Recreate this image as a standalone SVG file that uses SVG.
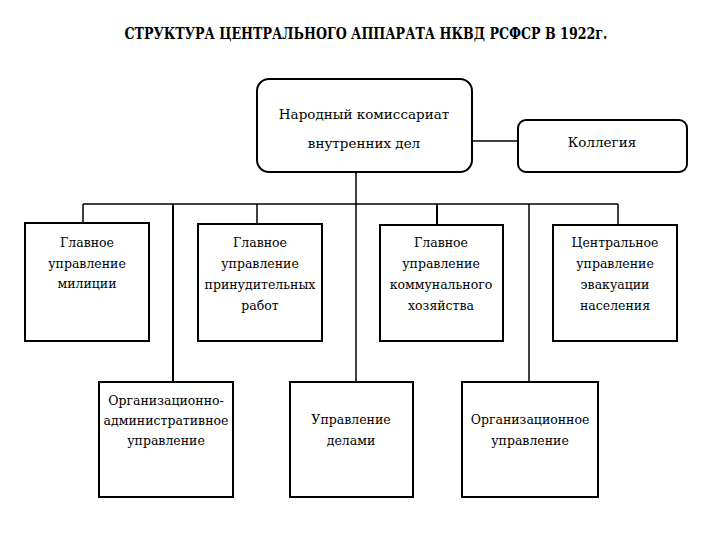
<svg xmlns="http://www.w3.org/2000/svg" width="720" height="540" viewBox="0 0 720 540">
<style>
.bx{fill:#fff;stroke:#000;stroke-width:2}
.ln{fill:none;stroke:#000;stroke-width:1.5}
text{font-family:'DejaVu Serif','Liberation Serif',serif;fill:#000}
.t{font-size:12.5px;text-anchor:middle}
.tl{font-size:13.5px;text-anchor:middle}
.title{font-family:'DejaVu Serif Condensed','DejaVu Serif',serif;font-stretch:condensed;font-size:16px;font-weight:bold;text-anchor:middle}
</style>
<rect width="720" height="540" fill="#fff"/>
<text class="title" x="366" y="39" textLength="483" lengthAdjust="spacingAndGlyphs">СТРУКТУРА ЦЕНТРАЛЬНОГО АППАРАТА НКВД РСФСР В 1922г.</text>
<g id="connectors">
<path class="ln" d="M472 141H518"/>
<path class="ln" d="M356 172V382"/>
<path class="ln" d="M83 204H618"/>
<path class="ln" d="M83 204V223"/>
<path class="ln" d="M257 204V224"/>
<path class="ln" d="M437 204V225" style="stroke-width:2"/>
<path class="ln" d="M618 204V225"/>
<path class="ln" d="M173 204V382" style="stroke-width:2"/>
<path class="ln" d="M529 204V382"/>
</g>
<g id="nkvd">
<rect class="bx" x="257" y="79" width="215" height="93" rx="12"/>
<text class="tl" x="364" y="119">Народный комиссариат</text>
<text class="tl" x="364" y="148">внутренних дел</text>
</g>
<g id="kollegia">
<rect class="bx" x="518" y="120" width="169" height="52" rx="8"/>
<text class="tl" x="602" y="147">Коллегия</text>
</g>
<g id="militsia">
<rect class="bx" x="25" y="223" width="124" height="118"/>
<text class="t" x="87" y="247">Главное</text>
<text class="t" x="87" y="268">управление</text>
<text class="t" x="87" y="288">милиции</text>
</g>
<g id="prinud">
<rect class="bx" x="198" y="224" width="124" height="117"/>
<text class="t" x="260" y="247">Главное</text>
<text class="t" x="260" y="268">управление</text>
<text class="t" x="260" y="289">принудительных</text>
<text class="t" x="260" y="310">работ</text>
</g>
<g id="kommun">
<rect class="bx" x="380" y="225" width="123" height="116"/>
<text class="t" x="441" y="247">Главное</text>
<text class="t" x="441" y="268">управление</text>
<text class="t" x="441" y="289">коммунального</text>
<text class="t" x="441" y="310">хозяйства</text>
</g>
<g id="evak">
<rect class="bx" x="553" y="225" width="124" height="116"/>
<text class="t" x="615" y="247">Центральное</text>
<text class="t" x="615" y="268">управление</text>
<text class="t" x="615" y="289">эвакуации</text>
<text class="t" x="615" y="310">населения</text>
</g>
<g id="orgadmin">
<rect class="bx" x="99" y="382" width="134" height="115"/>
<text class="t" x="166" y="405">Организационно-</text>
<text class="t" x="166" y="425">административное</text>
<text class="t" x="166" y="445">управление</text>
</g>
<g id="delami">
<rect class="bx" x="290" y="382" width="123" height="115"/>
<text class="t" x="351" y="424">Управление</text>
<text class="t" x="351" y="445">делами</text>
</g>
<g id="org">
<rect class="bx" x="462" y="382" width="136" height="115"/>
<text class="t" x="530" y="424">Организационное</text>
<text class="t" x="530" y="445">управление</text>
</g>
</svg>
